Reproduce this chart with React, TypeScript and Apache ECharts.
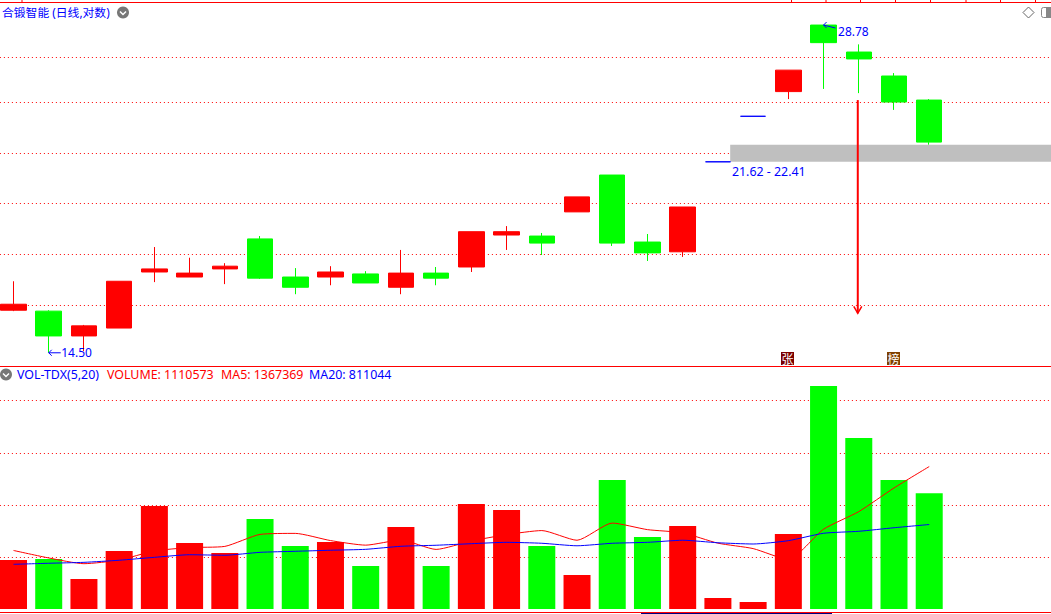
import React, { useEffect, useRef } from "react";
import * as echarts from "echarts";

const RED = "#ff0000";
const GREEN = "#00ff00";
const BLUE = "#0000ff";
const FONT = '12px "Noto Sans", "Noto Sans CJK SC", sans-serif';
const FONT_WIDE = '12.4px "Noto Sans", "Noto Sans CJK SC", sans-serif';
const FONT_TITLE = '11.8px "Noto Sans", "Noto Sans CJK SC", sans-serif';

// session slots: 27 traded days plus the empty space to the right
const categories = Array.from({ length: 30 }, (_, i) => String(i + 1));

// price: [open, close, low, high]; close > open paints red, close < open paints green
const candles: number[][] = [
  [15.85, 16.05, 15.82, 16.84],
  [15.82, 15.02, 14.5, 15.85],
  [15.02, 15.34, 14.55, 15.37],
  [15.27, 16.84, 15.27, 16.84],
  [17.17, 17.28, 16.81, 18.09],
  [16.99, 17.13, 16.99, 17.69],
  [17.28, 17.38, 16.74, 17.49],
  [18.4, 16.95, 16.92, 18.51],
  [16.99, 16.63, 16.39, 17.31],
  [16.99, 17.17, 16.7, 17.38],
  [17.1, 16.78, 16.78, 17.2],
  [16.63, 17.13, 16.39, 17.98],
  [17.13, 16.95, 16.7, 17.35],
  [17.35, 18.68, 17.17, 18.68],
  [18.55, 18.68, 17.98, 18.9],
  [18.51, 18.24, 17.79, 18.63],
  [19.47, 20.09, 19.47, 20.09],
  [21.03, 18.24, 18.13, 21.03],
  [18.28, 17.87, 17.57, 18.59],
  [17.91, 19.67, 17.72, 19.67],
  [21.62, 21.62, 21.62, 21.62],
  [23.78, 23.78, 23.78, 23.78],
  [25.04, 26.19, 24.65, 26.19],
  [28.78, 27.74, 25.18, 28.78],
  [27.2, 26.81, 24.96, 27.64],
  [25.87, 24.5, 24.1, 26.03],
  [24.6, 22.53, 22.41, 24.65],
];

const volumes = [
  470400, 480000, 288000, 556800, 988800, 633600, 537600, 864000, 604800,
  643200, 412800, 787200, 412800, 1008000, 950400, 604800, 326400, 1238400,
  691200, 796800, 105600, 67200, 720000, 2140800, 1641600, 1238400, 1110573,
];
const ma5 = [
  562000, 490000, 435000, 470000, 557000, 590000, 601000, 716000, 726000,
  657000, 613000, 662000, 572000, 653000, 714000, 753000, 660000, 825000,
  762000, 731000, 632000, 580000, 476000, 766000, 935000, 1162000, 1367369,
];
const ma20 = [
  429000, 439000, 448000, 468000, 496000, 521000, 516000, 544000, 554000,
  564000, 573000, 602000, 612000, 627000, 640000, 631000, 607000, 631000,
  640000, 660000, 636000, 624000, 656000, 727000, 746000, 780000, 811044,
];

const priceGrid = [26.892, 24.476, 21.998, 19.814, 17.81, 16.008];
const priceLabels = [
  [1, 14.5],
  [23, 28.78],
];
const gapBand = [[20, 22.41, 21.62]];
const gapText = "21.62 - 22.41";
const arrowDown = [[24, 24.6, 15.75]];
const dojiDays = [20, 21];
const topTicks = [22, 791.5, 826, 860.5, 895.5, 930.5, 966, 1000.5, 1035.5];

const chevron = (cx: number, cy: number) => [
  { type: "circle", shape: { cx, cy, r: 6 }, style: { fill: "#777777" }, silent: true },
  {
    type: "polyline",
    shape: { points: [[cx - 3, cy - 1], [cx, cy + 2], [cx + 3, cy - 1]] },
    style: { stroke: "#ffffff", lineWidth: 1.5, fill: "none" },
    silent: true,
  },
];
const hLine = (x1: number, x2: number, y: number, stroke: string) => ({
  type: "line",
  shape: { x1, y1: y, x2, y2: y },
  style: { stroke, lineWidth: 1 },
  silent: true,
});
const label = (text: string, x: number, y: number, fill: string, font: string = FONT_WIDE) => ({
  type: "text",
  x,
  y,
  style: { text, fill, font, verticalAlign: "middle", align: "left" },
  silent: true,
});
const stamp = (text: string, x: number, fill: string) => [
  { type: "rect", shape: { x, y: 352, width: 13, height: 13 }, style: { fill }, silent: true },
  {
    type: "text",
    x: x + 6.5,
    y: 358.5,
    style: { text, fill: "#ffffff", font: '12px "Noto Sans CJK SC"', align: "center", verticalAlign: "middle" },
    silent: true,
  },
];

export default function App() {
  const ref = useRef<HTMLDivElement>(null);
  useEffect(() => {
    document.body.style.margin = "0";
    document.body.style.background = "#ffffff";
    const chart = echarts.init(ref.current!, undefined, { renderer: "svg" });
    const dotted = { color: RED, width: 1, type: [1, 3] as number[] };
    chart.setOption({
      animation: false,
      backgroundColor: "#ffffff",
      grid: [
        { left: -4.11, width: 1056.6, top: 2.5, height: 364, outerBoundsMode: "none" },
        { left: -4.11, width: 1056.6, top: 366.5, height: 242.5, outerBoundsMode: "none" },
      ],
      xAxis: [
        { type: "category", gridIndex: 0, data: categories, show: false },
        { type: "category", gridIndex: 1, data: categories, show: false },
      ],
      yAxis: [
        { type: "log", gridIndex: 0, min: 14.09, max: 30.17, show: false, splitLine: { show: false } },
        {
          type: "value",
          gridIndex: 1,
          min: 0,
          max: 2328000,
          interval: 500000,
          axisLine: { show: false },
          axisTick: { show: false },
          axisLabel: { show: false },
          splitLine: { show: true, showMinLine: false, showMaxLine: false, lineStyle: dotted },
        },
      ],
      series: [
        {
          type: "candlestick",
          name: "K",
          xAxisIndex: 0,
          yAxisIndex: 0,
          z: 3,
          barWidth: 26,
          itemStyle: { color: RED, color0: GREEN, borderColor: RED, borderColor0: GREEN, borderWidth: 1 },
          data: candles.map((c, i) =>
            dojiDays.includes(i)
              ? {
                  value: c,
                  itemStyle: { color: BLUE, color0: BLUE, borderColor: BLUE, borderColor0: BLUE, borderColorDoji: BLUE },
                }
              : c
          ),
          markLine: {
            silent: true,
            z: 1,
            symbol: "none",
            label: { show: false },
            lineStyle: dotted,
            data: priceGrid.map((v) => ({ yAxis: v })),
          },
        },
        {
          type: "custom",
          name: "gap",
          xAxisIndex: 0,
          yAxisIndex: 0,
          z: 2,
          data: gapBand,
          silent: true,
          renderItem: (_: any, api: any) => {
            const [x0, yTop] = api.coord([api.value(0), api.value(1)]);
            const [, yBottom] = api.coord([api.value(0), api.value(2)]);
            return {
              type: "group",
              children: [
                {
                  type: "rect",
                  shape: { x: x0 + 12.3, y: yTop, width: 1051 - x0 - 12.3, height: yBottom - yTop },
                  style: { fill: "#bfbfbf" },
                },
                {
                  type: "text",
                  style: { text: gapText, x: x0 + 14, y: yBottom + 9.5, fill: BLUE, font: FONT_WIDE, verticalAlign: "middle" },
                },
              ],
            };
          },
        },
        {
          type: "custom",
          name: "arrow",
          xAxisIndex: 0,
          yAxisIndex: 0,
          z: 5,
          data: arrowDown,
          silent: true,
          renderItem: (_: any, api: any) => {
            const [x, y1] = api.coord([api.value(0), api.value(1)]);
            const [, y2] = api.coord([api.value(0), api.value(2)]);
            const xa = x - 1;
            return {
              type: "group",
              children: [
                { type: "line", shape: { x1: xa, y1, x2: xa, y2 }, style: { stroke: RED, lineWidth: 2 } },
                {
                  type: "polyline",
                  shape: { points: [[xa - 4, y2 - 7], [xa, y2], [xa + 4, y2 - 7]] },
                  style: { stroke: RED, lineWidth: 1.5, fill: "none" },
                },
              ],
            };
          },
        },
        {
          type: "custom",
          name: "extremes",
          xAxisIndex: 0,
          yAxisIndex: 0,
          z: 6,
          data: priceLabels,
          silent: true,
          renderItem: (_: any, api: any) => {
            const [x, y] = api.coord([api.value(0), api.value(1)]);
            const high = api.value(0) === 23;
            const ay2 = high ? y + 3 : y;
            return {
              type: "group",
              children: [
                { type: "line", shape: { x1: x, y1: y, x2: x + 12, y2: ay2 }, style: { stroke: BLUE, lineWidth: 1 } },
                {
                  type: "polyline",
                  shape: { points: [[x + 3, y - 3], [x, y], [x + 3, y + 3]] },
                  style: { stroke: BLUE, lineWidth: 1, fill: "none" },
                },
                {
                  type: "text",
                  style: {
                    text: api.value(1).toFixed(2),
                    x: x + (high ? 14.5 : 12.5),
                    y: high ? y + 6 : y,
                    fill: BLUE,
                    font: FONT,
                    verticalAlign: "middle",
                  },
                },
              ],
            };
          },
        },
        {
          type: "bar",
          name: "VOLUME",
          xAxisIndex: 1,
          yAxisIndex: 1,
          barWidth: 27,
          z: 2,
          data: volumes.map((v, i) => ({
            value: v,
            itemStyle: { color: candles[i][1] >= candles[i][0] ? RED : GREEN },
          })),
        },
        {
          type: "line",
          name: "MA5",
          xAxisIndex: 1,
          yAxisIndex: 1,
          z: 3,
          data: ma5,
          showSymbol: false,
          smooth: 0.2,
          lineStyle: { color: RED, width: 1 },
        },
        {
          type: "line",
          name: "MA20",
          xAxisIndex: 1,
          yAxisIndex: 1,
          z: 4,
          data: ma20,
          showSymbol: false,
          smooth: 0.2,
          lineStyle: { color: BLUE, width: 1 },
        },
      ],
      graphic: {
        elements: [
          hLine(0, 1051, 2.5, RED),
          hLine(0, 1051, 366.5, RED),
          hLine(0, 1051, 612.5, RED),
          hLine(641, 832, 613.5, "#000080"),
          ...topTicks.map((x) => ({
            type: "line",
            shape: { x1: x, y1: 0, x2: x, y2: 2 },
            style: { stroke: RED, lineWidth: 1 },
            silent: true,
          })),
          label("合锻智能 (日线,对数)", 2, 12, BLUE, FONT_TITLE),
          ...chevron(123, 12.5),
          {
            type: "polygon",
            shape: { points: [[1028.5, 7], [1034, 12.5], [1028.5, 18], [1023, 12.5]] },
            style: { stroke: "#666666", fill: "none", lineWidth: 1 },
            silent: true,
          },
          {
            type: "rect",
            shape: { x: 1041.5, y: 7.5, width: 14, height: 10, r: 2 },
            style: { stroke: "#888888", fill: "none", lineWidth: 1 },
            silent: true,
          },
          { type: "rect", shape: { x: 1046, y: 8, width: 5, height: 9 }, style: { fill: "#888888" }, silent: true },
          ...stamp("张", 781, "#7b0000"),
          ...stamp("榜", 887, "#7f4000"),
          ...chevron(6, 374.5),
          label("VOL-TDX(5,20)", 17, 374, BLUE),
          label("VOLUME: 1110573", 107, 374, RED),
          label("MA5: 1367369", 221, 374, RED),
          label("MA20: 811044", 309, 374, BLUE),
        ],
      },
    });
    return () => chart.dispose();
  }, []);
  return (
    <div
      ref={ref}
      style={{ position: "absolute", left: 0, top: 0, width: 1051, height: 614, overflow: "hidden" }}
    />
  );
}
